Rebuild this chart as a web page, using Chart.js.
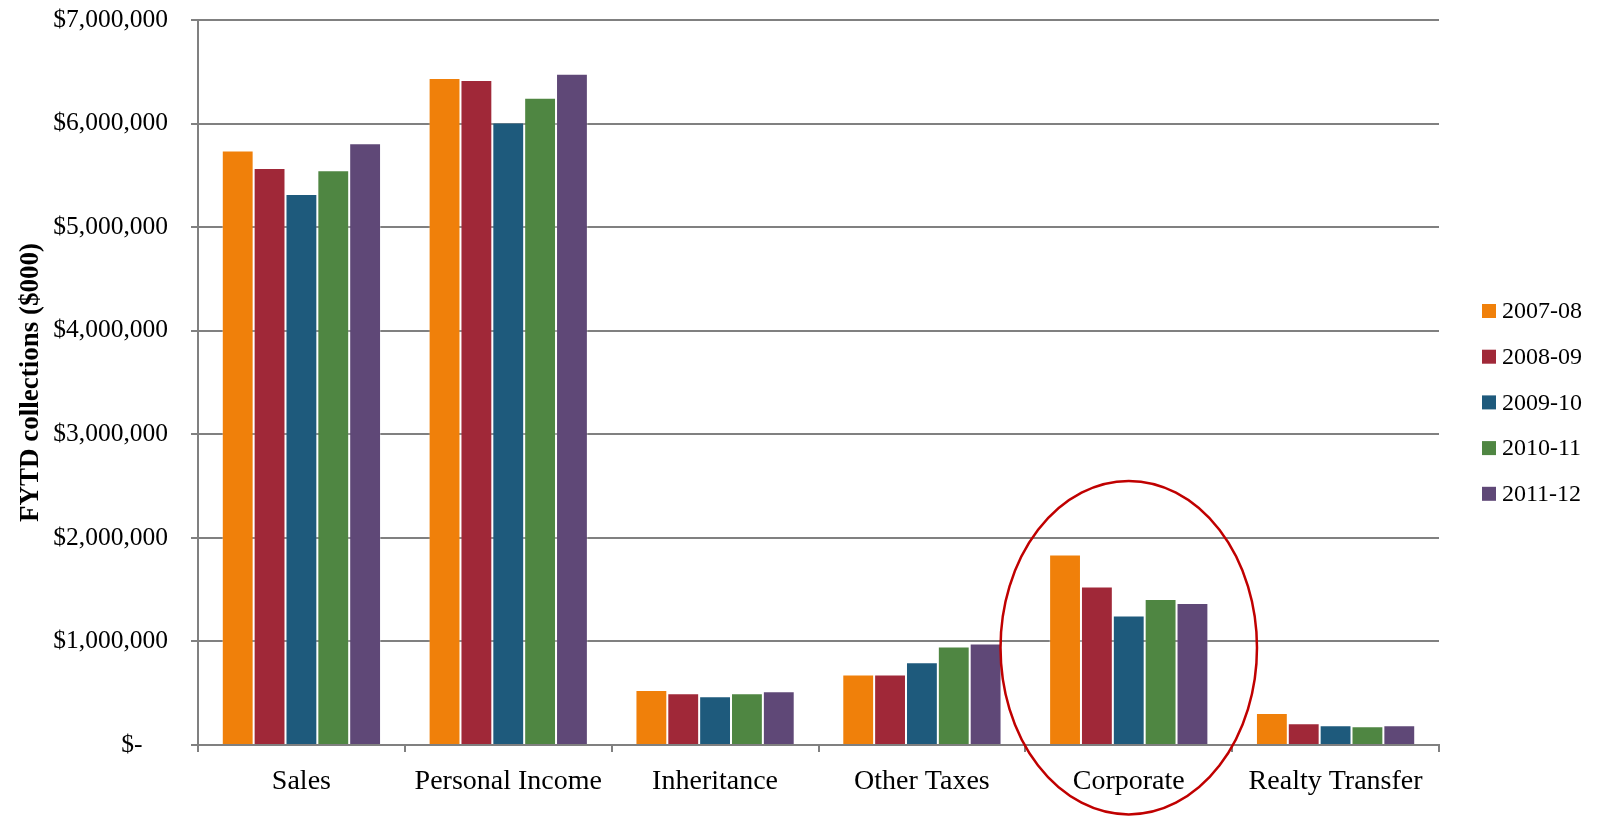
<!DOCTYPE html>
<html>
<head>
<meta charset="utf-8">
<title>FYTD collections</title>
<script src="https://cdn.jsdelivr.net/npm/chart.js@4.4.1/dist/chart.umd.min.js"></script>
<style>
    html, body { margin: 0; padding: 0; background: #fff; }
    #wrap { width: 1598px; height: 817px; position: relative; }
</style>
</head>
<body>
<div id="wrap"><canvas id="taxChart"></canvas></div>
<script>
// Chart data (values in $000)
const categories = ['Sales', 'Personal Income', 'Inheritance', 'Other Taxes', 'Corporate', 'Realty Transfer'];
const years = ['2007-08', '2008-09', '2009-10', '2010-11', '2011-12'];
const fy0708 = [5740000, 6440000, 530000, 680000, 1840000, 310000];
const fy0809 = [5570000, 6420000, 500000, 680000, 1530000, 210000];
const fy0910 = [5320000, 6010000, 470000, 800000, 1250000, 190000];
const fy1011 = [5550000, 6250000, 500000, 950000, 1410000, 180000];
const fy1112 = [5810000, 6480000, 520000, 980000, 1370000, 190000];
const yTicks = [0, 1000000, 2000000, 3000000, 4000000, 5000000, 6000000, 7000000];

const seriesColors = ['#f0800a', '#a02838', '#1e5a7c', '#4f8642', '#5f4877'];
const gridColor = '#808080';
const fontFamily = '"Liberation Serif", "Times New Roman", serif';

const seriesValues = [fy0708, fy0809, fy0910, fy1011, fy1112];

function formatDollars(value) {
    if (value === 0) return '$-    ';
    return '$' + value.toLocaleString('en-US');
}

// Legend drawn on the right, one square per series
const sideLegend = {
    id: 'sideLegend',
    afterDraw(chart) {
        const ctx = chart.ctx;
        ctx.save();
        ctx.font = '24px ' + fontFamily;
        ctx.textBaseline = 'middle';
        ctx.textAlign = 'left';
        chart.data.datasets.forEach(function(ds, i) {
            const y = 311 + i * 45.7;
            ctx.fillStyle = ds.backgroundColor;
            ctx.fillRect(1482, y - 7, 14, 14);
            ctx.fillStyle = '#000';
            ctx.fillText(ds.label, 1502, y + 1);
        });
        ctx.restore();
    }
};

// Red ellipse highlighting the Corporate group
const highlightCircle = {
    id: 'highlightCircle',
    afterDatasetsDraw(chart) {
        const xs = chart.scales.x;
        const ys = chart.scales.y;
        const catWidth = xs.getPixelForValue(1) - xs.getPixelForValue(0);
        const cx = xs.getPixelForValue(4);
        const cy = ys.getPixelForValue(940000);
        const ry = ys.getPixelForValue(0) - ys.getPixelForValue(1610000);
        const rx = catWidth * 0.62;
        const ctx = chart.ctx;
        ctx.save();
        ctx.strokeStyle = '#c00000';
        ctx.lineWidth = 2.5;
        ctx.beginPath();
        ctx.ellipse(cx, cy, rx, ry, 0, 0, Math.PI * 2);
        ctx.stroke();
        ctx.restore();
    }
};

const ctx = document.getElementById('taxChart').getContext('2d');
new Chart(ctx, {
    type: 'bar',
    data: {
        labels: categories,
        datasets: years.map(function(year, i) {
            return {
                label: year,
                data: seriesValues[i],
                backgroundColor: seriesColors[i],
                borderColor: 'rgba(255, 255, 255, 0.3)',
                borderWidth: 1,
                barPercentage: 1.0,
                categoryPercentage: 0.77
            };
        })
    },
    options: {
        responsive: true,
        maintainAspectRatio: false,
        animation: false,
        devicePixelRatio: 1,
        layout: {
            padding: { top: 20, right: 159, left: 0, bottom: 0 }
        },
        plugins: {
            legend: { display: false },
            tooltip: { enabled: false }
        },
        scales: {
            x: {
                grid: {
                    offset: true,
                    drawOnChartArea: false,
                    drawTicks: true,
                    tickLength: 7,
                    color: gridColor,
                    lineWidth: 2
                },
                border: { color: gridColor, width: 2 },
                ticks: {
                    color: '#000',
                    padding: 13,
                    font: { family: fontFamily, size: 28 }
                },
                afterFit: function(scale) {
                    scale.height = 72;
                }
            },
            y: {
                min: 0,
                max: 7000000,
                afterBuildTicks: function(scale) {
                    scale.ticks = yTicks.map(function(v) { return { value: v }; });
                },
                grid: {
                    color: gridColor,
                    lineWidth: 2,
                    tickLength: 7
                },
                border: { color: gridColor, width: 2 },
                ticks: {
                    color: '#000',
                    padding: 23,
                    font: { family: fontFamily, size: 25.5 },
                    callback: function(value) {
                        return formatDollars(value);
                    }
                },
                title: {
                    display: true,
                    text: 'FYTD collections ($000)',
                    color: '#000',
                    padding: { top: 15, bottom: 0 },
                    font: { family: fontFamily, size: 27, weight: 'bold' }
                },
                afterFit: function(scale) {
                    scale.width = 198;
                    // the tick padding would otherwise push the plot top down
                    scale.paddingTop = 0;
                    scale.paddingBottom = 0;
                }
            }
        }
    },
    plugins: [highlightCircle, sideLegend]
});
</script>
</body>
</html>
